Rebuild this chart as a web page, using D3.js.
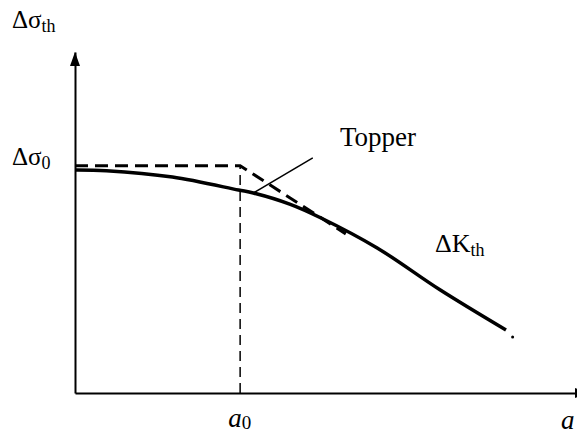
<!DOCTYPE html>
<html>
<head>
<meta charset="utf-8">
<script src="https://cdn.jsdelivr.net/npm/d3@7"></script>
<style>
  body { margin: 0; background: #fff; }
</style>
</head>
<body>
<div class="chart"></div>
<script>
// threshold curve (a, delta sigma_th), normalised so that delta sigma_0 = 1, a_0 = 1
var curveA     = [0, 0.19, 0.59, 0.99, 1.08, 1.30, 1.49, 1.83, 2.21, 2.61];
var curveSigma = [0.981, 0.978, 0.950, 0.893, 0.880, 0.831, 0.770, 0.638, 0.454, 0.277];
// Topper's bilinear approximation
var topperA     = [0, 1, 1.64];
var topperSigma = [1, 1, 0.70];
// stray end point after the curve
var endDot = [2.65, 0.246];
// leader line for the "Topper" label
var leaderA     = [1.08, 1.44];
var leaderSigma = [0.880, 1.034];
var a0 = 1, sigma0 = 1;

(function(){
var width = 577, height = 434;

// set the ranges
var x = d3.scaleLinear().domain([0, 3.04]).range([75, 577]);
var y = d3.scaleLinear().domain([0, 1.5]).range([393, 52]);

var svg = d3.select(".chart").append("svg")
    .attr("width", width)
    .attr("height", height);

var line = d3.line()
    .x(function(d) { return x(d[0]); })
    .y(function(d) { return y(d[1]); });

// axes without ticks
svg.append("g")
    .attr("transform", "translate(0," + y(0) + ")")
    .call(d3.axisBottom(x).tickValues([]).tickSizeOuter(0));
svg.append("g")
    .attr("transform", "translate(" + x(0) + ",0)")
    .call(d3.axisLeft(y).tickValues([]).tickSizeOuter(0));
svg.selectAll(".domain").style("stroke", "#000").style("stroke-width", 2);

// y arrow head
var tipY = y(1.5), ax = x(0);
svg.append("path")
    .attr("d", "M" + ax + "," + tipY + " L" + (ax - 5) + "," + (tipY + 14) + " L" + (ax + 5) + "," + (tipY + 14) + "Z")
    .style("fill", "#000");
// x arrow head, cut off by the page edge
svg.append("path")
    .attr("d", "M" + (x(3.04) - 2) + "," + (y(0) - 5) + " L" + (x(3.04) + 12) + "," + y(0) + " L" + (x(3.04) - 2) + "," + (y(0) + 5) + "Z")
    .style("fill", "#000");

// vertical dashed line at a0
svg.append("path")
    .datum([[a0, 0], [a0, sigma0]])
    .attr("d", line)
    .style("stroke", "#000").style("stroke-width", 1.5)
    .style("stroke-dasharray", "10,6").style("fill", "none");

// Topper dashed lines
svg.append("path")
    .datum(topperA.map(function(a, i) { return [a, topperSigma[i]]; }))
    .attr("d", line)
    .style("stroke", "#000").style("stroke-width", 3)
    .style("stroke-dasharray", "13,7").style("fill", "none");

// main threshold curve
svg.append("path")
    .datum(curveA.map(function(a, i) { return [a, curveSigma[i]]; }))
    .attr("d", line.curve(d3.curveCatmullRom))
    .style("stroke", "#000").style("stroke-width", 3.5)
    .style("fill", "none");
line.curve(d3.curveLinear);

svg.append("circle")
    .attr("cx", x(endDot[0])).attr("cy", y(endDot[1]))
    .attr("r", 1.5).style("fill", "#000");

// leader line
svg.append("path")
    .datum(leaderA.map(function(a, i) { return [a, leaderSigma[i]]; }))
    .attr("d", line)
    .style("stroke", "#000").style("stroke-width", 1.5)
    .style("fill", "none");

// labels
function label(px, py, main, sub, size, italic) {
  var t = svg.append("text")
      .attr("x", px).attr("y", py)
      .attr("font-family", "Liberation Serif")
      .attr("font-size", size)
      .attr("fill", "#000");
  var m = t.append("tspan").text(main);
  if (italic) m.attr("font-style", "italic");
  if (sub) t.append("tspan").text(sub)
      .attr("font-size", Math.round(size * 0.7))
      .attr("dy", 4);
  return t;
}
label(12, 28, "\u0394\u03c3", "th", 25);
label(12, y(sigma0) - 1, "\u0394\u03c3", "0", 25);
label(x(a0) - 12, 427, "a", null, 27, true)
  .append("tspan").text("0").attr("font-size", 19).attr("dy", 2);
label(561, 429, "a", null, 27, true);
label(340, 146, "Topper", null, 27);
label(435, 252, "\u0394K", "th", 26);
})();
</script>
</body>
</html>
